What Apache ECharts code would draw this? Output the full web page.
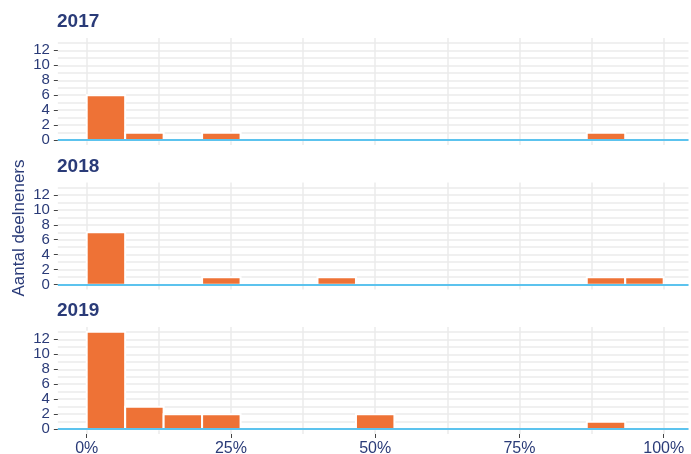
<!DOCTYPE html>
<html>
<head>
<meta charset="utf-8">
<script src="https://cdn.jsdelivr.net/npm/echarts@6/dist/echarts.min.js"></script>
<style>html,body{margin:0;padding:0;background:#fff}#c{width:691px;height:454px}</style>
</head>
<body>
<div id="c"></div>
<script>
// ---- data ----
const years = ['2017', '2018', '2019'];
const binEdges = [0, 6.667, 13.333, 20, 26.667, 33.333, 40, 46.667, 53.333, 60, 66.667, 73.333, 80, 86.667, 93.333, 100];
const counts2017 = [6, 1, 0, 1, 0, 0, 0, 0, 0, 0, 0, 0, 0, 1, 0];
const counts2018 = [7, 0, 0, 1, 0, 0, 1, 0, 0, 0, 0, 0, 0, 1, 1];
const counts2019 = [13, 3, 2, 2, 0, 0, 0, 2, 0, 0, 0, 0, 0, 1, 0];
const xTickValues = [0, 25, 50, 75, 100];
const xGridValues = [0, 12.5, 25, 37.5, 50, 62.5, 75, 87.5, 100];
const yTickValues = [0, 2, 4, 6, 8, 10, 12];
const yGridValues = [0, 1, 2, 3, 4, 5, 6, 7, 8, 9, 10, 11, 12, 13];
const yTitle = 'Aantal deelneners';

const allCounts = [counts2017, counts2018, counts2019];
const X_MIN = -5, X_MAX = 104.3, Y_MIN = -0.65, Y_MAX = 13.65;
const tops = [38, 182.5, 327];
const H = 107, LEFT = 57.85, W = 630.65;
const navy = '#2a3b78';
const FONT = '"Liberation Sans", Arial, sans-serif';

const chart = echarts.init(document.getElementById('c'), null, {renderer: 'canvas'});
const grid = [], xAxis = [], yAxis = [], series = [], title = [];

years.forEach((yr, i) => {
  grid.push({left: LEFT, top: tops[i], width: W, height: H, containLabel: false, outerBoundsMode: 'none'});
  title.push({text: yr, left: 57, top: tops[i] - 25.5, padding: 0,
    textStyle: {fontFamily: FONT, fontSize: 19, fontWeight: 'bold', color: navy, lineHeight: 19}});
  const last = i === years.length - 1;
  // gridline x axis
  xAxis.push({type: 'value', gridIndex: i, position: 'bottom', offset: 0, min: X_MIN, max: X_MAX,
    axisLine: {show: false, onZero: false}, axisLabel: {show: false},
    axisTick: {show: false, customValues: xGridValues},
    splitLine: {show: true, lineStyle: {color: '#ebebeb', width: 1.5}}});
  // label x axis
  xAxis.push({type: 'value', gridIndex: i, position: 'bottom', offset: 0, min: X_MIN, max: X_MAX,
    axisLine: {show: false, onZero: false}, splitLine: {show: false},
    axisTick: {show: last, customValues: xTickValues, length: 4, lineStyle: {color: '#444', width: 1}},
    axisLabel: {show: last, customValues: xTickValues, formatter: '{value}%', margin: 7,
      fontFamily: FONT, fontSize: 16, color: navy}});
  // gridline y axis
  yAxis.push({type: 'value', gridIndex: i, position: 'left', offset: 0, min: Y_MIN, max: Y_MAX,
    axisLine: {show: false, onZero: false}, axisLabel: {show: false},
    axisTick: {show: false, customValues: yGridValues},
    splitLine: {show: true, lineStyle: {color: '#ebebeb', width: 1.5}}});
  // label y axis
  yAxis.push({type: 'value', gridIndex: i, position: 'left', offset: 0, min: Y_MIN, max: Y_MAX,
    axisLine: {show: false, onZero: false}, splitLine: {show: false},
    axisTick: {show: true, customValues: yTickValues, length: 4, lineStyle: {color: '#444', width: 1}},
    axisLabel: {show: true, customValues: yTickValues, margin: 8,
      fontFamily: FONT, fontSize: 15, color: navy}});
  const data = [];
  allCounts[i].forEach((c, k) => { if (c > 0) data.push([binEdges[k], binEdges[k + 1], c]); });
  series.push({
    type: 'custom', xAxisIndex: 2 * i, yAxisIndex: 2 * i, data: data, z: 3,
    renderItem: function (params, api) {
      const p1 = api.coord([api.value(0), api.value(2)]);
      const p2 = api.coord([api.value(1), 0]);
      return {type: 'rect', shape: {x: p1[0], y: p1[1], width: p2[0] - p1[0], height: p2[1] - p1[1]},
        style: {fill: '#ee7236', stroke: '#ffffff', lineWidth: 2}};
    },
    markLine: {silent: true, symbol: 'none', label: {show: false},
      lineStyle: {color: '#5cc3ee', width: 2, type: 'solid'},
      data: [{yAxis: 0}], z: 5}
  });
});

chart.setOption({animation: false, backgroundColor: '#fff', title, grid, xAxis, yAxis, series,
  graphic: [{type: 'text', x: 19, y: 228, rotation: Math.PI / 2,
    style: {text: yTitle, fontFamily: FONT, fontSize: 17, fill: navy, align: 'center', verticalAlign: 'middle'}}]});
</script>
</body>
</html>
